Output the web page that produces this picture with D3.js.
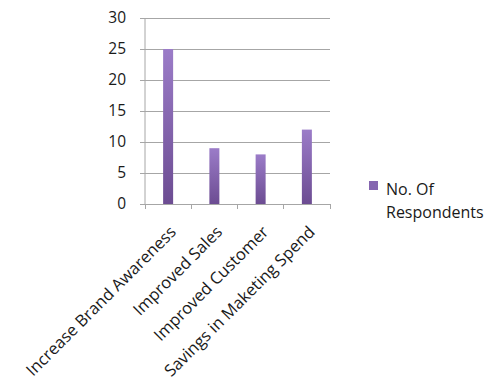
<!DOCTYPE html>
<html>
<head>
<meta charset="utf-8">
<script src="https://cdn.jsdelivr.net/npm/d3@7"></script>
<style>
  html, body { margin: 0; padding: 0; background: #fff; }
  svg text { font-family: "Open Sans", sans-serif; fill: #1a1a1a; }
</style>
</head>
<body>
<svg id="chart" width="494" height="385"></svg>
<script>
const categories = ["Increase Brand Awareness", "Improved Sales", "Improved Customer", "Savings in Maketing Spend"];
const respondents = [25, 9, 8, 12];
const yTicks = [0, 5, 10, 15, 20, 25, 30];
const seriesName = ["No. Of", "Respondents"];

const svg = d3.select("#chart");
const plotLeft = 145, plotRight = 330, plotTop = 18, plotBottom = 204;

const x = d3.scaleBand().domain(categories).range([plotLeft, plotRight]).padding(0);
const y = d3.scaleLinear().domain([0, 30]).range([plotBottom, plotTop]);

const defs = svg.append("defs");
const grad = defs.append("linearGradient").attr("id", "barGrad")
  .attr("x1", 0).attr("y1", 0).attr("x2", 0).attr("y2", 1);
grad.append("stop").attr("offset", "0%").attr("stop-color", "#9b7cc8");
grad.append("stop").attr("offset", "100%").attr("stop-color", "#6c4c92");

// gridlines
svg.append("g").selectAll("line").data(yTicks.filter(d => d > 0)).join("line")
  .attr("x1", plotLeft).attr("x2", plotRight)
  .attr("y1", d => y(d)).attr("y2", d => y(d))
  .attr("stroke", "#a6a6a6").attr("stroke-width", 1).attr("shape-rendering", "crispEdges");

// y axis
const yAxis = svg.append("g").attr("transform", `translate(${plotLeft},0)`)
  .call(d3.axisLeft(y).tickValues(yTicks).tickSize(5).tickPadding(14));
yAxis.select(".domain").attr("stroke", "#a6a6a6").attr("d", `M0,${plotTop}V${plotBottom}`);
yAxis.selectAll(".tick line").attr("stroke", "#a6a6a6");
yAxis.selectAll(".tick text").attr("font-size", 15.5).attr("fill", "#1a1a1a")
  .attr("font-family", "'Open Sans', sans-serif");

// x axis line and ticks at band edges
const xg = svg.append("g").attr("transform", `translate(0,${plotBottom})`);
xg.append("line").attr("x1", plotLeft).attr("x2", plotRight).attr("y1", 0).attr("y2", 0)
  .attr("stroke", "#a6a6a6").attr("shape-rendering", "crispEdges");
const edges = categories.map(c => x(c)).concat([plotRight]);
xg.selectAll(".edge").data(edges).join("line").attr("class", "edge")
  .attr("x1", d => d).attr("x2", d => d).attr("y1", 0).attr("y2", 5)
  .attr("stroke", "#a6a6a6").attr("shape-rendering", "crispEdges");

// bars
const barW = 10;
svg.append("g").selectAll("rect").data(respondents).join("rect")
  .attr("x", (d, i) => x(categories[i]) + x.bandwidth() / 2 - barW / 2)
  .attr("y", d => y(d))
  .attr("width", barW)
  .attr("height", d => plotBottom - y(d))
  .attr("fill", "url(#barGrad)");

// rotated category labels
svg.append("g").selectAll("text").data(categories).join("text")
  .attr("transform", c => `translate(${x(c) + x.bandwidth() / 2 + 9},${plotBottom + 29}) rotate(-45)`)
  .attr("text-anchor", "end")
  .attr("font-size", 16.5)
  .text(c => c);

// legend
const lg = svg.append("g");
lg.append("rect").attr("x", 369).attr("y", 181).attr("width", 9).attr("height", 9).attr("fill", "#8566b0");
lg.selectAll("text").data(seriesName).join("text")
  .attr("x", 386).attr("y", (d, i) => 195 + i * 23)
  .attr("font-size", 16)
  .text(d => d);
</script>
</body>
</html>
